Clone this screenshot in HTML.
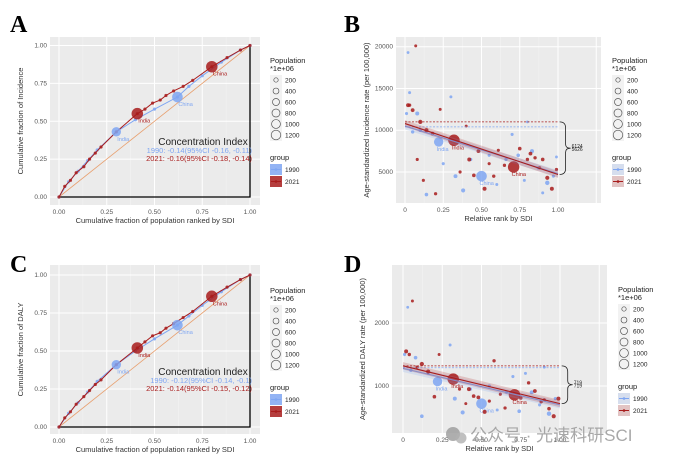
<!DOCTYPE html>
<html><head><meta charset="utf-8"><style>
html,body{margin:0;padding:0;background:#fff;}
svg{display:block;font-family:"Liberation Sans","Noto Sans CJK SC",sans-serif;}
</style></head><body>
<svg id="fig" width="674" height="461" viewBox="0 0 674 461" xmlns="http://www.w3.org/2000/svg"></svg>
<script>
// ---------- DATA ----------
const concA2021X=[0,0.03,0.06,0.09,0.13,0.16,0.19,0.22,0.3,0.41,0.45,0.49,0.53,0.56,0.6,0.65,0.7,0.8,0.88,0.95,1];
const concA2021Y=[0,0.07,0.11,0.16,0.2,0.25,0.29,0.33,0.43,0.55,0.58,0.62,0.64,0.67,0.7,0.73,0.77,0.86,0.92,0.97,1];
const concA1990X=[0,0.05,0.1,0.15,0.2,0.3,0.4,0.5,0.62,0.68,0.75,0.85,0.95,1];
const concA1990Y=[0,0.1,0.17,0.24,0.31,0.43,0.51,0.58,0.66,0.73,0.8,0.89,0.97,1];
const concC2021X=[0,0.03,0.06,0.09,0.13,0.16,0.19,0.22,0.3,0.41,0.45,0.49,0.53,0.56,0.6,0.65,0.7,0.8,0.88,0.95,1];
const concC2021Y=[0,0.06,0.1,0.15,0.2,0.24,0.28,0.31,0.41,0.52,0.56,0.6,0.62,0.65,0.68,0.72,0.76,0.86,0.92,0.97,1];
const concC1990X=[0,0.05,0.1,0.15,0.2,0.3,0.4,0.5,0.62,0.68,0.75,0.85,0.95,1];
const concC1990Y=[0,0.09,0.16,0.23,0.3,0.41,0.5,0.58,0.67,0.73,0.8,0.89,0.97,1];
const bigA=[["1990",0.3,0.43,850,"India"],["1990",0.62,0.66,1150,"China"],["2021",0.41,0.55,1400,"India"],["2021",0.8,0.86,1400,"China"]];
const bigC=[["1990",0.3,0.41,850,"India"],["1990",0.62,0.67,1150,"China"],["2021",0.41,0.52,1400,"India"],["2021",0.8,0.86,1400,"China"]];
const ciA=["1990: -0.14(95%CI -0.16, -0.11)","2021: -0.16(95%CI -0.18, -0.14)"];
const ciC=["1990: -0.12(95%CI -0.14, -0.1)","2021: -0.14(95%CI -0.15, -0.12)"];
const scatB1990R=[0.01,0.02,0.03,0.05,0.08,0.1,0.14,0.22,0.25,0.3,0.33,0.38,0.43,0.5,0.55,0.6,0.66,0.7,0.74,0.78,0.8,0.83,0.87,0.9,0.93,0.97,0.99];
const scatB1990V=[12000,19300,14500,9800,12000,10000,2300,8600,6000,14000,4500,2800,6500,4500,7000,3500,6500,9500,7000,4000,11000,7500,5500,2500,3700,4500,6800];
const scatB1990P=[20,10,15,30,60,40,40,850,20,15,60,70,20,1150,20,15,25,20,40,15,10,60,20,15,90,20,10];
const scatB2021R=[0.02,0.03,0.05,0.07,0.08,0.1,0.12,0.14,0.18,0.2,0.23,0.32,0.36,0.4,0.42,0.45,0.48,0.52,0.55,0.58,0.61,0.65,0.71,0.75,0.8,0.82,0.85,0.88,0.9,0.93,0.96,0.99];
const scatB2021V=[13000,13000,12400,20100,6500,11000,4000,10000,9600,2400,12500,8800,5000,10500,6500,4600,7500,3000,6000,4500,7600,5800,5600,7800,6500,7200,6700,5500,6500,4300,3000,5300];
const scatB2021P=[60,30,50,15,20,80,20,70,40,25,15,1400,20,15,60,40,50,60,20,30,20,25,1400,40,30,50,30,20,40,70,60,25];
const scatD1990R=[0.01,0.03,0.05,0.08,0.12,0.16,0.22,0.3,0.33,0.38,0.43,0.5,0.55,0.6,0.66,0.7,0.74,0.78,0.82,0.87,0.9,0.93,0.97];
const scatD1990V=[1500,2250,1250,1450,520,1200,1070,1650,800,580,950,720,1000,620,900,1150,600,1200,900,700,1300,560,800];
const scatD1990P=[20,10,30,40,40,15,850,15,60,70,20,1150,20,15,25,20,40,15,60,20,15,90,20];
const scatD2021R=[0.02,0.04,0.06,0.09,0.12,0.16,0.2,0.23,0.32,0.36,0.4,0.42,0.45,0.48,0.52,0.55,0.58,0.62,0.65,0.71,0.75,0.8,0.84,0.88,0.9,0.93,0.96,0.99];
const scatD2021V=[1550,1500,2350,1300,1350,1230,830,1500,1110,950,720,950,840,820,590,760,1400,870,650,860,810,1050,920,750,780,640,520,800];
const scatD2021P=[60,30,15,20,80,70,40,15,1400,20,15,60,40,50,60,20,30,20,25,1400,40,30,50,30,20,40,70,60];
const regB=[[10500,4800],[10800,4700]]; const dashB=[10400,11000]; const braceB=["6124","5626"];
const regD=[[1280,700],[1320,720]]; const dashD=[1290,1320]; const braceD=["719","719"];
const xTicks=["0.00","0.25","0.50","0.75","1.00"];
const xTicksR=["0","0.25","0.50","0.75","1.00"];
const yTicksA=["0.00","0.25","0.50","0.75","1.00"];
const yTicksB=[5000,10000,15000,20000];
const yTicksD=[1000,2000];
const legendPop=[200,400,600,800,1000,1200];

// ---------- HELPERS ----------
const S=document.getElementById('fig'); const NS='http://www.w3.org/2000/svg';
function el(tag,attrs,parent,txt){const e=document.createElementNS(NS,tag);for(const k in attrs)e.setAttribute(k,attrs[k]);if(txt!==undefined)e.textContent=txt;(parent||S).appendChild(e);return e;}
const BLUE='#7FA6F2', RED='#A81C1C';
function rad(p){return 1+Math.sqrt(p/1200)*4.4;}
function grp(name){const g=el('g',{});return g;}

function panelFrame(g,bx0,by0,bx1,by1,xs,ys,vx,vy,xlab,ylab,yTickVals,yTickLabs,xLabs){
  el('rect',{x:bx0,y:by0,width:bx1-bx0,height:by1-by0,fill:'#EBEBEB'},g);
  for(let i=0;i<4;i++){const v=vx[i]+(vx[1]-vx[0])/2;el('line',{x1:xs(v),x2:xs(v),y1:by0,y2:by1,stroke:'#F5F5F5','stroke-width':0.5},g);}
  vx.forEach((v,i)=>{el('line',{x1:xs(v),x2:xs(v),y1:by0,y2:by1,stroke:'#fff','stroke-width':1},g);
    const t=el('text',{x:xs(v),y:by1+9,'font-size':6.5,fill:'#555','text-anchor':'middle'},g,xLabs[i]);});
  yTickVals.forEach((v,i)=>{el('line',{x1:bx0,x2:bx1,y1:ys(v),y2:ys(v),stroke:'#fff','stroke-width':1},g);
    const t=el('text',{x:bx0-3,y:ys(v)+2,'font-size':6.5,fill:'#555','text-anchor':'end'},g,yTickLabs[i]);});
  const xl=el('text',{x:(bx0+bx1)/2,y:by1+18,'font-size':7.5,fill:'#333','text-anchor':'middle'},g,xlab);
  const cx=bx0-27, cy=(by0+by1)/2;
  const yl=el('text',{x:cx,y:cy,'font-size':7.5,fill:'#333','text-anchor':'middle',transform:`rotate(-90 ${cx} ${cy})`},g,ylab);
}
function legend(x,y,kind){
  const g=grp('legend');
  el('text',{x:x,y:y,'font-size':7.5,fill:'#222'},g,'Population');
  el('text',{x:x,y:y+8,'font-size':7.5,fill:'#222'},g,'*1e+06');
  el('rect',{x:x,y:y+12,width:12,height:66,fill:'#F2F2F2'},g);
  legendPop.forEach((p,i)=>{const cy=y+17+i*11;
    const c=el('circle',{cx:x+6,cy:cy,r:rad(p)-0.6,fill:'none',stroke:'#555','stroke-width':0.7},g);
    el('text',{x:x+15,y:cy+2.5,'font-size':6.5,fill:'#222'},g,String(p));});
  el('text',{x:x,y:y+97,'font-size':7.5,fill:'#222'},g,'group');
  [['1990',BLUE],['2021',RED]].forEach((d,i)=>{const yy=y+101+i*12;
    const e=el('g',{},g);
    el('rect',{x:x,y:yy,width:12,height:11,fill:kind==='c'?d[1]:(i?'#E2C4C4':'#D6DEEE'),opacity:kind==='c'?0.85:1},e);
    el('line',{x1:x+1,x2:x+11,y1:yy+5.5,y2:yy+5.5,stroke:d[1],'stroke-width':1},e);
    el('circle',{cx:x+6,cy:yy+5.5,r:1.3,fill:d[1]},e);
    el('text',{x:x+15,y:yy+8,'font-size':6.5,fill:'#222'},e,d[0]);});
}
function letter(t,x,y){const l=el('text',{x:x,y:y,'font-size':24,'font-weight':'bold','font-family':'Liberation Serif,serif',fill:'#000'},S,t);}

// ---------- CONCENTRATION PANELS ----------
function concPanel(name,by0,by1,y0px,y1px,X90,Y90,X21,Y21,big,ci,ylab){
  const g=grp(name);
  const xs=v=>59+v*191, ys=v=>y0px+v*(y1px-y0px);
  panelFrame(g,50,by0,260,by1,xs,ys,[0,0.25,0.5,0.75,1],[0,0.25,0.5,0.75,1],'Cumulative fraction of population ranked by SDI',ylab,[0,0.25,0.5,0.75,1],yTicksA,xTicks);
  const d=el('line',{x1:xs(0),y1:ys(0),x2:xs(1),y2:ys(1),stroke:'#E8A070','stroke-width':0.8},g);
  el('path',{d:`M${xs(0)},${ys(0)}H${xs(1)}V${ys(1)}`,fill:'none',stroke:'#000','stroke-width':1.3},g);
  [[X90,Y90,BLUE,'1990'],[X21,Y21,RED,'2021']].forEach(s=>{
    const p=el('path',{d:s[0].map((x,i)=>(i?'L':'M')+xs(x)+','+ys(s[1][i])).join(''),fill:'none',stroke:s[2],'stroke-width':1},g);
    
    s[0].forEach((x,i)=>{const c=el('circle',{cx:xs(x),cy:ys(s[1][i]),r:1.6,fill:s[2],opacity:0.85},g);});
  });
  big.forEach(b=>{const col=b[0]==='1990'?BLUE:RED;
    const c=el('circle',{cx:xs(b[1]),cy:ys(b[2]),r:rad(b[3]),fill:col,opacity:0.85},g);
    el('text',{x:xs(b[1])+1,y:ys(b[2])+9,'font-size':5.5,fill:col},g,b[4]);});
  const t=el('text',{x:203,y:y0px-52,'font-size':10,fill:'#222','text-anchor':'middle'},g,'Concentration Index');
  el('text',{x:252,y:y0px-44,'font-size':7.5,fill:BLUE,'text-anchor':'end'},g,ci[0]);
  el('text',{x:252,y:y0px-36,'font-size':7.5,fill:RED,'text-anchor':'end'},g,ci[1]);
}
letter('A',10,32);
concPanel('panel-a-concentration-curve',37,205,197,45.5,concA1990X,concA1990Y,concA2021X,concA2021Y,bigA,ciA,'Cumulative fraction of Incidence');
legend(270,63,'c');
letter('C',10,272);
concPanel('panel-c-concentration-curve',265,434,427,275,concC1990X,concC1990Y,concC2021X,concC2021Y,bigC,ciC,'Cumulative fraction of DALY');
legend(270,293,'c');

// ---------- SLOPE PANELS ----------
function slopePanel(name,bx0,bx1,by0,by1,xs,ys,vmin,vmax,yT,R90,V90,P90,R21,V21,P21,reg,dash,brace,ylab){
  const g=grp(name);
  panelFrame(g,bx0,by0,bx1,by1,xs,ys,[0,0.25,0.5,0.75,1],[0,0.25,0.5,0.75,1],'Relative rank by SDI',ylab,yT,yT.map(String),xTicksR);
  el('line',{x1:xs(1.25),x2:xs(1.25),y1:by0,y2:by1,stroke:'#fff','stroke-width':1},g);
  [[R90,V90,P90,BLUE,'1990'],[R21,V21,P21,RED,'2021']].forEach(s=>{
    s[0].forEach((r,i)=>{const v=Math.max(vmin,Math.min(vmax,s[1][i]));
      const c=el('circle',{cx:xs(r),cy:ys(v),r:rad(s[2][i]),fill:s[3],opacity:0.85},g);
      if(s[2][i]>800){el('text',{x:xs(r)-2,y:ys(v)+9,'font-size':5.5,fill:s[3]},g,r<0.4?'India':'China');}
    });
  });
  [[reg[0],dash[0],BLUE,'1990'],[reg[1],dash[1],RED,'2021']].forEach(s=>{
    const band=(ys(0)-ys(vmax))*0.02;
    el('path',{d:`M${xs(0)},${ys(s[0][0])-band}L${xs(1)},${ys(s[0][1])-band}L${xs(1)},${ys(s[0][1])+band}L${xs(0)},${ys(s[0][0])+band}Z`,fill:s[2],opacity:0.2},g);
    const l=el('line',{x1:xs(0),y1:ys(s[0][0]),x2:xs(1),y2:ys(s[0][1]),stroke:s[2],'stroke-width':1.1},g);
    const dl=el('line',{x1:xs(0),y1:ys(s[1]),x2:xs(1),y2:ys(s[1]),stroke:s[2],'stroke-width':0.7,'stroke-dasharray':'2,1.5'},g);
  });
  const bx=xs(1.03), yt=ys(dash[1]), yb=ys(reg[1][1]), ym=(yt+yb)/2;
  const br=el('path',{d:`M${bx-3},${yt}Q${bx+3},${yt} ${bx+3},${yt+6}V${ym-4}Q${bx+3},${ym} ${bx+8},${ym}Q${bx+3},${ym} ${bx+3},${ym+4}V${yb-6}Q${bx+3},${yb} ${bx-3},${yb}`,fill:'none',stroke:'#222','stroke-width':0.8},g);
  
  el('text',{x:bx+9,y:ym,'font-size':5,fill:'#222'},g,brace[0]);
  el('text',{x:bx+9,y:ym+3,'font-size':5,fill:'#222'},g,brace[1]);
}
letter('B',344,32);
const xsB=v=>405+v*153, ysB=v=>172-(v-5000)*(125.3/15000);
slopePanel('panel-b-slope-index',396,601,37,203,xsB,ysB,1500,20500,yTicksB,scatB1990R,scatB1990V,scatB1990P,scatB2021R,scatB2021V,scatB2021P,regB,dashB,braceB,'Age-standardized Incidence rate (per 100,000)');
legend(612,63,'s');
letter('D',344,272);
const xsD=v=>403+v*157, ysD=v=>386-(v-1000)*0.063;
slopePanel('panel-d-slope-index',392,607,265,433,xsD,ysD,250,2900,yTicksD,scatD1990R,scatD1990V,scatD1990P,scatD2021R,scatD2021V,scatD2021P,regD,dashD,braceD,'Age-standardized DALY rate (per 100,000)');
legend(618,292,'s');

// watermark
const wm=grp('watermark');
el('circle',{cx:453,cy:434,r:7,fill:'#9a9a9a',opacity:0.8},wm);
el('circle',{cx:461,cy:438,r:5.5,fill:'#b0b0b0',opacity:0.8},wm);
el('text',{x:470,y:441,'font-size':17,fill:'#9a9a9a',opacity:0.85},wm,'公众号 · 光速科研SCI');
</script>
</body></html>
